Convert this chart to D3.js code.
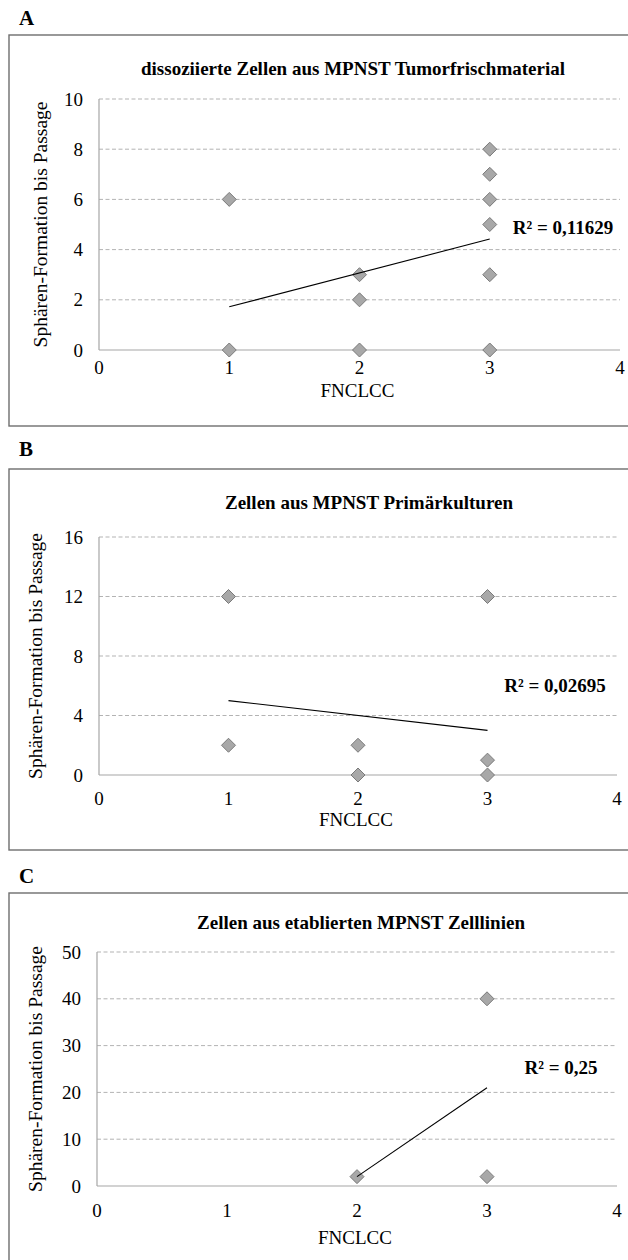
<!DOCTYPE html>
<html>
<head>
<meta charset="utf-8">
<script src="https://cdn.jsdelivr.net/npm/d3@7"></script>
<style>
  body { margin: 0; background: #fff; }
  svg text { font-family: "Liberation Serif", "Times New Roman", Times, serif; }
  .grid line { stroke: #b3b3b3; stroke-dasharray: 4,2.5; }
  .axisline { stroke: #a6a6a6; stroke-width: 1.2; }
  .frame { fill: none; stroke: #6e6e6e; stroke-width: 1.4; }
</style>
</head>
<body>
<div id="chart"></div>
<script>
// panel letters and titles
var panelLetters = ["A", "B", "C"];
var panelTitles = [
  "dissoziierte Zellen aus MPNST Tumorfrischmaterial",
  "Zellen aus MPNST Primärkulturen",
  "Zellen aus etablierten MPNST Zelllinien"
];
var xTitle = "FNCLCC";
var yTitle = "Sphären-Formation bis Passage";
var xTicks = [0, 1, 2, 3, 4];

// y axis ticks per panel
var yTicksA = [0, 2, 4, 6, 8, 10];
var yTicksB = [0, 4, 8, 12, 16];
var yTicksC = [0, 10, 20, 30, 40, 50];

// scatter points (FNCLCC grade, sphere passage)
var gradeA = [1, 1, 2, 2, 2, 3, 3, 3, 3, 3, 3];
var spheresA = [6, 0, 3, 2, 0, 8, 7, 6, 5, 3, 0];
var gradeB = [1, 1, 2, 2, 3, 3, 3];
var spheresB = [12, 2, 2, 0, 12, 1, 0];
var gradeC = [2, 3, 3];
var spheresC = [2, 40, 2];

// linear trend lines (start/end)
var trendXA = [1, 3], trendYA = [1.72, 4.42];
var trendXB = [1, 3], trendYB = [5.0, 3.0];
var trendXC = [2, 3], trendYC = [2, 21];

var r2Labels = ["R² = 0,11629", "R² = 0,02695", "R² = 0,25"];

var W = 628, H = 1260;

// layout of each panel in page pixels
var layout = [
  {letterY: 25, frameTop: 35, frameBottom: 426, titleX: 353, titleY: 68, x0: 99, x1: 620,
   yTop: 99, yBottom: 350, tickY: 367, xLabelY: 390, yLabelX: 40, r2X: 563, r2Y: 227},
  {letterY: 456, frameTop: 469, frameBottom: 850, titleX: 369, titleY: 502, x0: 99, x1: 617,
   yTop: 537, yBottom: 775, tickY: 798, xLabelY: 819, yLabelX: 35, r2X: 555, r2Y: 685},
  {letterY: 883, frameTop: 893, frameBottom: 1275, titleX: 361, titleY: 922, x0: 97, x1: 617,
   yTop: 952, yBottom: 1186, tickY: 1210, xLabelY: 1237, yLabelX: 35, r2X: 561, r2Y: 1067}
];

var panels = [
  {ticks: yTicksA, xs: gradeA, ys: spheresA, tx: trendXA, ty: trendYA},
  {ticks: yTicksB, xs: gradeB, ys: spheresB, tx: trendXB, ty: trendYB},
  {ticks: yTicksC, xs: gradeC, ys: spheresC, tx: trendXC, ty: trendYC}
];

var svg = d3.select("#chart").append("svg")
  .attr("width", W)
  .attr("height", H);

var diamond = "M0,-7L7,0L0,7L-7,0Z";

panels.forEach(function(p, i) {
  var L = layout[i];
  var g = svg.append("g");

  // frame round the panel, open to the right
  g.append("rect")
    .attr("class", "frame")
    .attr("x", 9)
    .attr("y", L.frameTop)
    .attr("width", W + 20)
    .attr("height", L.frameBottom - L.frameTop);

  g.append("text")
    .attr("x", 19)
    .attr("y", L.letterY)
    .attr("font-size", 21)
    .attr("font-weight", "bold")
    .text(panelLetters[i]);

  g.append("text")
    .attr("x", L.titleX)
    .attr("y", L.titleY)
    .attr("dy", "0.35em")
    .attr("text-anchor", "middle")
    .attr("font-size", 19)
    .attr("font-weight", "bold")
    .text(panelTitles[i]);

  var x = d3.scaleLinear().domain([0, 4]).range([L.x0, L.x1]);
  var y = d3.scaleLinear().domain([0, d3.max(p.ticks)]).range([L.yBottom, L.yTop]);

  // dashed gridlines
  g.append("g").attr("class", "grid")
    .selectAll("line")
    .data(p.ticks.filter(function(t) { return t > 0; }))
    .enter().append("line")
    .attr("x1", L.x0).attr("x2", L.x1)
    .attr("y1", function(d) { return y(d); })
    .attr("y2", function(d) { return y(d); });

  // axis lines
  g.append("line").attr("class", "axisline")
    .attr("x1", L.x0).attr("x2", L.x1)
    .attr("y1", y(0)).attr("y2", y(0));
  g.append("line").attr("class", "axisline")
    .attr("x1", L.x0).attr("x2", L.x0)
    .attr("y1", y(d3.max(p.ticks))).attr("y2", y(0));

  // tick labels
  g.append("g").selectAll("text")
    .data(p.ticks)
    .enter().append("text")
    .attr("x", L.x0 - 16)
    .attr("y", function(d) { return y(d); })
    .attr("dy", "0.35em")
    .attr("text-anchor", "end")
    .attr("font-size", 19)
    .text(function(d) { return d; });

  g.append("g").selectAll("text")
    .data(xTicks)
    .enter().append("text")
    .attr("x", function(d) { return x(d); })
    .attr("y", L.tickY)
    .attr("dy", "0.35em")
    .attr("text-anchor", "middle")
    .attr("font-size", 19)
    .text(function(d) { return d; });

  g.append("text")
    .attr("x", (L.x0 + L.x1) / 2 - 2)
    .attr("y", L.xLabelY)
    .attr("dy", "0.35em")
    .attr("text-anchor", "middle")
    .attr("font-size", 19)
    .text(xTitle);

  g.append("text")
    .attr("transform", "translate(" + L.yLabelX + "," + (L.yTop + L.yBottom) / 2 + ") rotate(-90)")
    .attr("dy", "0.35em")
    .attr("text-anchor", "middle")
    .attr("font-size", 19.5)
    .text(yTitle);

  // points
  g.append("g").selectAll("path")
    .data(p.xs.map(function(v, k) { return [v, p.ys[k]]; }))
    .enter().append("path")
    .attr("d", diamond)
    .attr("transform", function(d) { return "translate(" + x(d[0]) + "," + y(d[1]) + ")"; })
    .attr("fill", "#a8a8a8")
    .attr("stroke", "#7a7a7a")
    .attr("stroke-width", 1);

  // trend line
  var line = d3.line()
    .x(function(d) { return x(d[0]); })
    .y(function(d) { return y(d[1]); });
  g.append("path")
    .datum(p.tx.map(function(v, k) { return [v, p.ty[k]]; }))
    .attr("d", line)
    .attr("fill", "none")
    .attr("stroke", "#000")
    .attr("stroke-width", 1.1);

  g.append("text")
    .attr("x", L.r2X)
    .attr("y", L.r2Y)
    .attr("dy", "0.35em")
    .attr("text-anchor", "middle")
    .attr("font-size", 19)
    .attr("font-weight", "bold")
    .text(r2Labels[i]);
});
</script>
</body>
</html>
